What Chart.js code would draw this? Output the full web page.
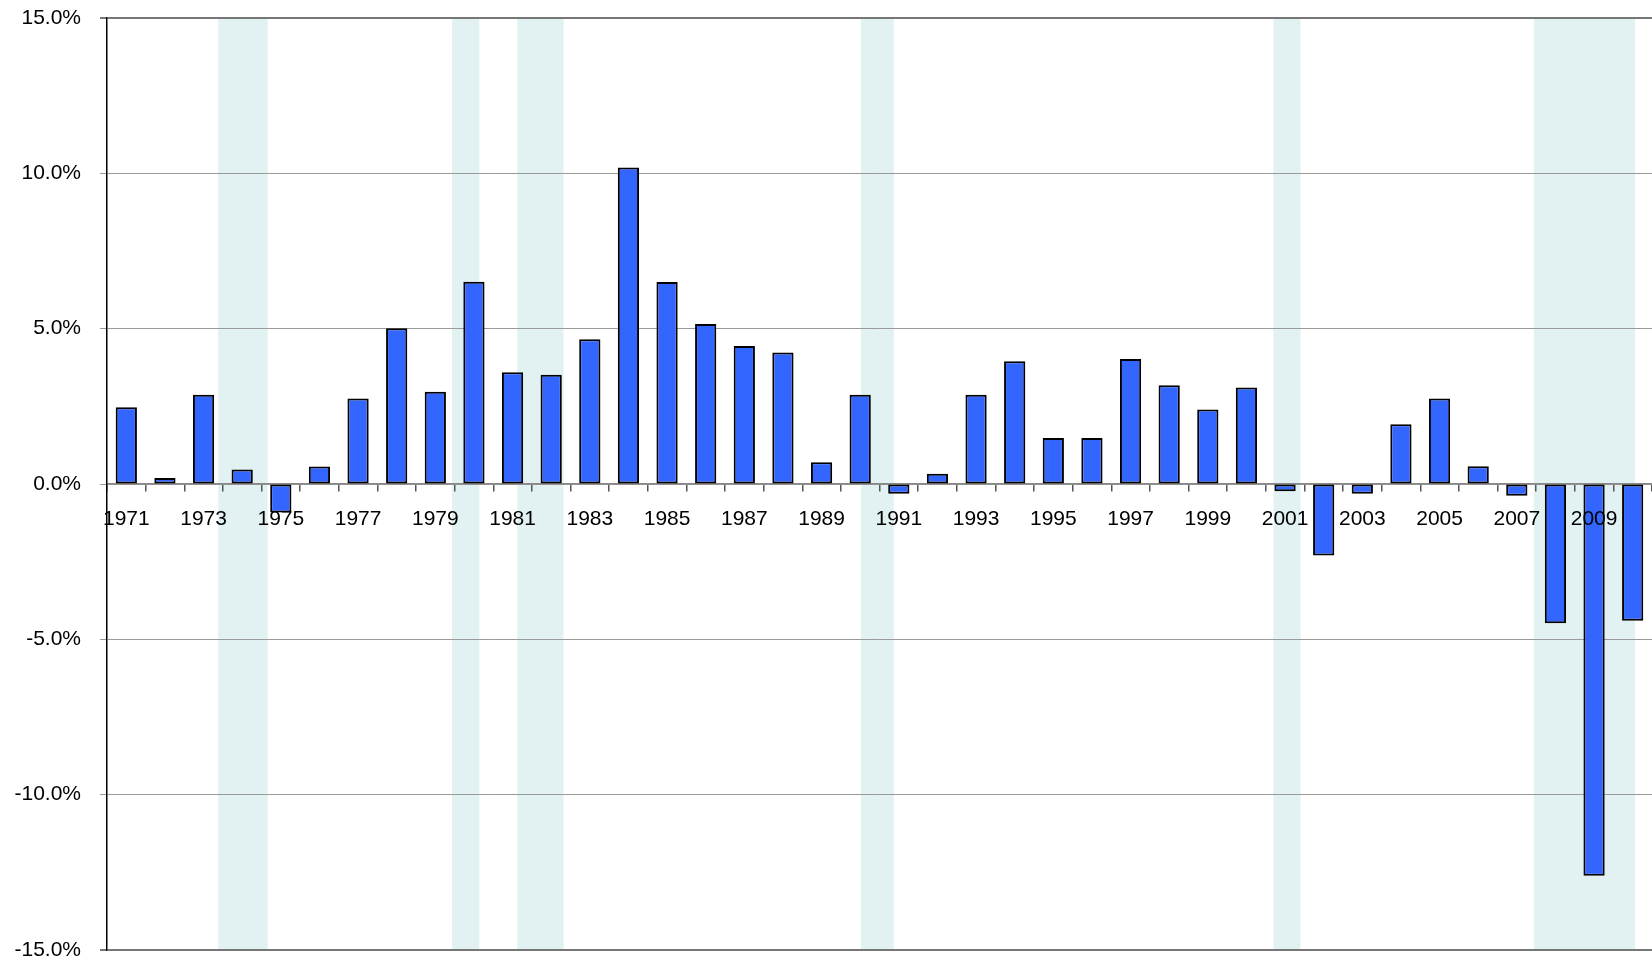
<!DOCTYPE html>
<html>
<head>
<meta charset="utf-8">
<script src="https://cdn.jsdelivr.net/npm/chart.js@4"></script>
<style>
  html, body { margin: 0; padding: 0; background: #fff; }
  #wrap { width: 1652px; height: 960px; position: relative; }
</style>
</head>
<body>
<div id="wrap"><canvas id="chart"></canvas></div>
<script>
"use strict";

// ── data ──────────────────────────────────────────────────────────────────────
const years = [
  1971, 1972, 1973, 1974, 1975, 1976, 1977, 1978, 1979, 1980,
  1981, 1982, 1983, 1984, 1985, 1986, 1987, 1988, 1989, 1990,
  1991, 1992, 1993, 1994, 1995, 1996, 1997, 1998, 1999, 2000,
  2001, 2002, 2003, 2004, 2005, 2006, 2007, 2008, 2009, 2010,
];
const growth = [
  2.47, 0.19, 2.87, 0.47, -0.92, 0.56, 2.75, 5.01, 2.97, 6.51,
  3.60, 3.52, 4.66, 10.19, 6.50, 5.15, 4.44, 4.23, 0.70, 2.87,
  -0.31, 0.33, 2.87, 3.95, 1.48, 1.48, 4.02, 3.18, 2.40, 3.11,
  -0.23, -2.30, -0.31, 1.92, 2.75, 0.57, -0.38, -4.48, -12.61, -4.40,
];
// shaded periods (fractional years)
const recessionStart = [1973.88, 1979.93, 1981.62, 1990.52, 2001.20, 2007.94];
const recessionEnd   = [1975.16, 1980.64, 1982.82, 1991.37, 2001.90, 2010.56];
const yTicks = [-15, -10, -5, 0, 5, 10, 15];

// ── recession shading, drawn under grid and bars ──────────────────────────────
const shadePlugin = {
  id: "shade",
  beforeDraw(chart) {
    const { ctx, chartArea: a, scales: { x } } = chart;
    const catW = x.getPixelForValue(1) - x.getPixelForValue(0);
    const x0 = x.getPixelForValue(0) - catW / 2;
    ctx.save();
    ctx.fillStyle = "#e2f2f2";
    recessionStart.forEach((s, i) => {
      const l = x0 + (s - years[0]) * catW;
      const r = Math.min(x0 + (recessionEnd[i] - years[0]) * catW, a.right);
      ctx.fillRect(l, a.top, r - l, a.bottom - a.top);
    });
    ctx.restore();
  },
};

const font = { family: "'Liberation Sans', Arial, sans-serif", size: 21 };

new Chart(document.getElementById("chart"), {
  type: "bar",
  data: {
    labels: years.map(String),
    datasets: [{
      data: growth,
      backgroundColor: "#3366ff",
      borderColor: "#000",
      borderWidth: 2,
      borderSkipped: false,
      barPercentage: 0.55,
      categoryPercentage: 1.0,
    }],
  },
  options: {
    responsive: true,
    maintainAspectRatio: false,
    animation: false,
    layout: { padding: { top: 18, bottom: 10, left: 0, right: 0 } },
    plugins: { legend: { display: false }, tooltip: { enabled: false } },
    scales: {
      x: {
        position: { y: 0 },
        offset: true,
        grid: {
          offset: true,
          drawOnChartArea: false,
          drawTicks: true,
          tickLength: 7,
          color: "#555",
          lineWidth: 1.5,
        },
        border: { display: true, color: "#888", width: 1.5 },
        ticks: {
          z: 1, // year labels sit on top of the bars
          autoSkip: false,
          maxRotation: 0,
          padding: 16,
          color: "#000",
          font,
          callback: (v, i) => (i % 2 === 0 ? years[i] : ""),
        },
      },
      y: {
        min: -15,
        max: 15,
        afterFit: s => {
          s.width = 107;
          s.paddingTop = 10;
          s.paddingBottom = 10;
        },
        afterBuildTicks: s => { s.ticks = yTicks.map(v => ({ value: v })); },
        grid: {
          color: c => (c.tick && Math.abs(c.tick.value) === 15 ? "#777" : "#9a9a9a"),
          lineWidth: c => (c.tick && Math.abs(c.tick.value) === 15 ? 2 : 1),
          tickLength: 7,
        },
        border: { display: true, color: "#000", width: 1.5 },
        ticks: {
          padding: 19,
          color: "#000",
          font,
          callback: v => v.toFixed(1) + "%",
        },
      },
    },
  },
  plugins: [shadePlugin],
});
</script>
</body>
</html>
